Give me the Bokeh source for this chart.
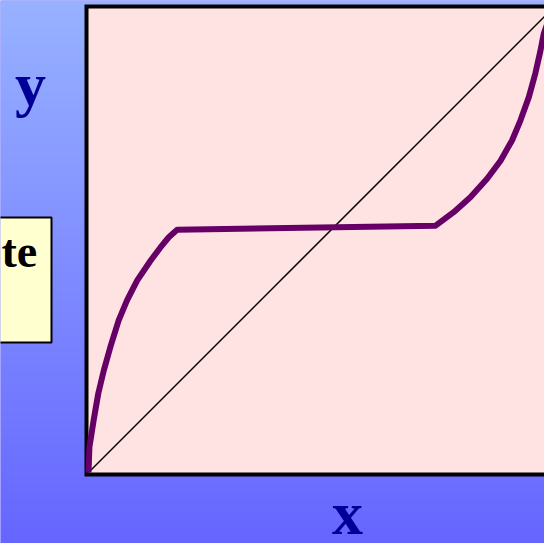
import numpy as np
from bokeh.plotting import figure
from bokeh.models import Range1d
from bokeh.core.properties import value
from bokeh.embed import file_html
from bokeh.resources import INLINE

# ---- data (mole fractions) ----
curve_x = [0.0, 0.002, 0.011, 0.021, 0.033, 0.047, 0.065, 0.083, 0.105,
           0.134, 0.155, 0.173, 0.191,
           0.748, 0.787, 0.823, 0.859, 0.888, 0.913, 0.931, 0.949, 0.963,
           0.974, 0.981, 1.0]
curve_y = [0.0, 0.055, 0.112, 0.170, 0.220, 0.270, 0.328, 0.371, 0.414,
           0.457, 0.485, 0.507, 0.523,
           0.532, 0.561, 0.593, 0.633, 0.672, 0.716, 0.759, 0.809, 0.860,
           0.909, 0.945, 1.0]
diag_x = [0.0, 1.0]
diag_y = [0.0, 1.0]
x_label = "x"
y_label = "y"
box_text = "te"

# ---- layout ----
W, H = 544, 543
U = 464.0            # pixels per data unit
OX, OY = 88, 472     # canvas pixel of data origin (from top-left)

def px_x(px):
    return (px - OX) / U

def px_y(py):
    return (OY - py) / U

p = figure(width=W, height=H, output_backend="svg", toolbar_location=None,
           x_axis_type=None, y_axis_type=None, min_border=0,
           x_range=Range1d(px_x(0), px_x(W)), y_range=Range1d(px_y(H), px_y(0)))
p.outline_line_color = None
p.grid.visible = False
p.background_fill_color = "#6666FF"
p.border_fill_color = "#6666FF"

# gradient background
top = np.array([152, 178, 255])
bot = np.array([102, 102, 255])
rows = H
t = np.linspace(0, 1, rows)[:, None]  # row 0 = bottom
cols = (bot + (top - bot) * t).astype(np.uint32)
img = np.zeros((rows, 1), dtype=np.uint32)
view = img.view(dtype=np.uint8).reshape((rows, 1, 4))
view[:, 0, 0] = cols[:, 0]
view[:, 0, 1] = cols[:, 1]
view[:, 0, 2] = cols[:, 2]
view[:, 0, 3] = 255
p.image_rgba(image=[img], x=px_x(0), y=px_y(H), dw=W / U, dh=H / U)

# plot frame
b = 4 / U
p.quad(left=-b, right=1 + b, bottom=-b, top=1 + b, fill_color="black", line_color=None)
p.quad(left=0, right=1, bottom=0, top=1, fill_color="#FFE2E2", line_color=None)

# diagonal and equilibrium curve
p.line(diag_x, diag_y, line_color="black", line_width=1.5)
p.line(curve_x, curve_y, line_color="#660066", line_width=6, line_join="round")

# yellow note box
p.quad(left=px_x(-20), right=px_x(51), bottom=px_y(342), top=px_y(217),
       fill_color="#FFFFD0", line_color="black", line_width=2)
p.text(x=[px_x(1)], y=[px_y(251)], text=[box_text], text_align="left",
       text_baseline="alphabetic", text_font=value("Liberation Serif"),
       text_font_style="bold", text_font_size="46px", text_color="black")

# axis labels
p.text(x=[px_x(30)], y=[px_y(83)], text=[y_label], text_align="center",
       text_baseline="alphabetic", text_font=value("Liberation Serif"),
       text_font_style="bold", text_font_size="62px", text_color="#000099")
p.text(x=[px_x(347)], y=[px_y(512)], text=[x_label], text_align="center",
       text_baseline="alphabetic", text_font=value("Liberation Serif"),
       text_font_style="bold", text_font_size="62px", text_color="#000099")

open("out.html", "w").write(file_html(p, INLINE))
